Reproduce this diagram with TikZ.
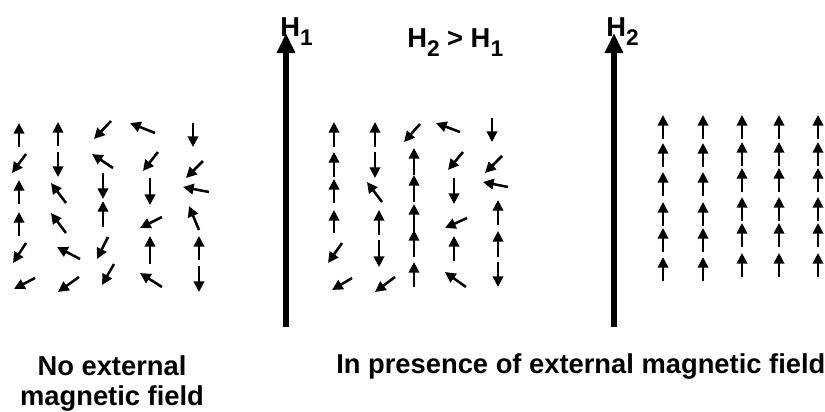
\documentclass[tikz,border=0pt]{standalone}
\usepackage{fontspec}
\setmainfont{Liberation Sans}
\usepackage{tikz}
\usetikzlibrary{positioning,arrows.meta}

\tikzset{
    spin/.style={line width=1.9pt, -{Triangle[length=8pt,width=7.8pt]}},
    field/.style={line width=4.6pt, -{Triangle[length=15pt,width=13pt]}},
    lbl/.style={font=\bfseries\fontsize{20.5}{22.5}\selectfont, inner sep=0pt}
}
\newcommand{\Hsub}[1]{H\raisebox{-7pt}{\fontsize{17}{17}\selectfont #1}}

\begin{document}
\begin{tikzpicture}[x=0.75pt, y=-0.75pt]
    \useasboundingbox (0,0) rectangle (825,411);

    \foreach \xa/\ya/\xb/\yb in {19/147/19/123, 26/154/12/173, 19/204/19/180, 19/236/19/212, 26/243/13/263, 35/278/14/289,
        58/146/58/122, 58/152/58/177, 66/203/51/183, 66/233/51/213, 80/259/57/247, 79/277/58/292,
        111/121/94/139, 113/168/92/154, 103/173/103/199, 103/227/103/201, 108/237/97/259, 114/264/102/285,
        155/133/130/123, 158/152/143/171, 150/178/150/205, 162/217/140/228, 150/264/150/236, 162/287/140/273,
        193/123/193/147, 203/161/186/178, 209/192/183/187, 199/230/189/206, 199/260/199/236, 199/266/199/292} {
        \draw[spin] (\xa,\ya) -- (\xb,\yb);
    }

    \foreach \xa/\ya/\xb/\yb in {334/147/334/122, 334/177/334/152, 334/203/334/179, 334/233/334/210, 342/243/328/263, 352/278/332/290,
        375/147/375/122, 375/152/375/178, 382/202/367/182, 379/235/379/210, 379/240/379/267, 395/277/375/292,
        420/124/404/142, 414/175/414/148, 414/202/414/175, 414/232/414/204, 414/257/414/230, 414/287/414/262,
        460/132/436/123, 463/152/448/170, 454/178/454/204, 467/218/445/228, 454/261/454/236, 466/287/445/272,
        492/118/492/142, 502/156/485/173, 508/187/483/182, 498/225/498/200, 498/257/498/231, 498/262/498/287} {
        \draw[spin] (\xa,\ya) -- (\xb,\yb);
    }

    \foreach \x in {663,703} {
        \foreach \y in {115,143,172,202,228,257} {
            \draw[spin] (\x,\y+24) -- (\x,\y);
        }
    }
    \foreach \x in {742,779,818} {
        \foreach \y in {115,142,168,197,223,253} {
            \draw[spin] (\x,\y+24) -- (\x,\y);
        }
    }

    \draw[field] (286,327) -- (286,33);
    \draw[field] (614,327) -- (614,33);

    \node[lbl, anchor=base west] (hone) at (280,36) {\Hsub{1}};
    \node[lbl, anchor=base west] (hcmp) at (407,47) {\Hsub{2} > \Hsub{1}};
    \node[lbl, anchor=base west] (htwo) at (606,36) {\Hsub{2}};

    \node[lbl, align=center] (nofield) at (112,383) {No external\\magnetic field};
    \node[lbl, anchor=base west] (withfield) at (336,373) {In presence of external magnetic field};
\end{tikzpicture}
\end{document}
